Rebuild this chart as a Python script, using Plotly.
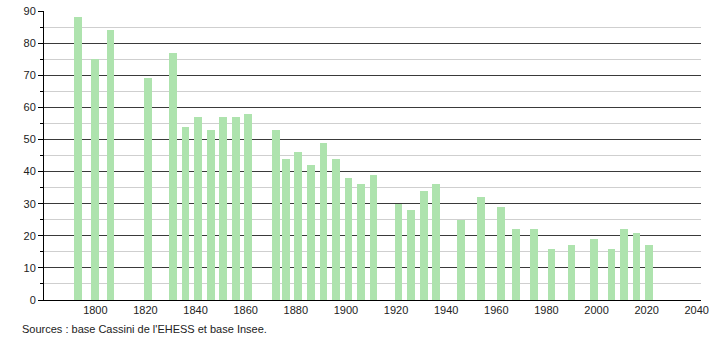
import plotly.graph_objects as go

years = [1793, 1800, 1806, 1821, 1831, 1836, 1841, 1846, 1851, 1856, 1861,
         1872, 1876, 1881, 1886, 1891, 1896, 1901, 1906, 1911, 1921, 1926,
         1931, 1936, 1946, 1954, 1962, 1968, 1975, 1982, 1990, 1999, 2006,
         2011, 2016, 2021]
population = [88, 75, 84, 69, 77, 54, 57, 53, 57, 57, 58,
              53, 44, 46, 42, 49, 44, 38, 36, 39, 30, 28,
              34, 36, 25, 32, 29, 22, 22, 16, 17, 19, 16,
              22, 21, 17]
x_ticks = list(range(1800, 2041, 20))
y_ticks = list(range(0, 91, 10))
source_text = "Sources : base Cassini de l'EHESS et base Insee."

fig = go.Figure(go.Bar(
    x=years, y=population, width=3.1,
    marker=dict(color="#aee3ae", line=dict(width=0)),
    hoverinfo="x+y",
))

font = dict(family="Liberation Sans, Arial, sans-serif", size=11, color="#222")

fig.update_layout(
    template="none",
    width=710, height=340,
    margin=dict(l=44, r=9, t=11, b=40),
    paper_bgcolor="white", plot_bgcolor="white",
    font=font,
    showlegend=False,
    bargap=0,
    xaxis=dict(
        range=[1779.5, 2041.7], automargin=False,
        tickvals=x_ticks, ticktext=[str(v) for v in x_ticks],
        showgrid=False, zeroline=False,
        showline=True, linecolor="#000", linewidth=1,
        ticks="", tickfont=font,
    ),
    yaxis=dict(
        range=[0, 90], automargin=False,
        tickvals=y_ticks,
        showgrid=True, gridcolor="#3a3a3a", gridwidth=1,
        zeroline=False,
        showline=True, linecolor="#000", linewidth=1,
        ticks="outside", ticklen=5, tickcolor="#000",
        tickfont=font,
        minor=dict(dtick=5, tick0=0, showgrid=True, gridcolor="#cfcfcf",
                   ticks="outside", ticklen=3, tickcolor="#000"),
    ),
    annotations=[dict(
        text=source_text, xref="paper", yref="paper",
        x=-24/657, y=-29/289, xanchor="left", yanchor="middle",
        showarrow=False, font=font,
    )],
)

fig.write_html("out.html")
